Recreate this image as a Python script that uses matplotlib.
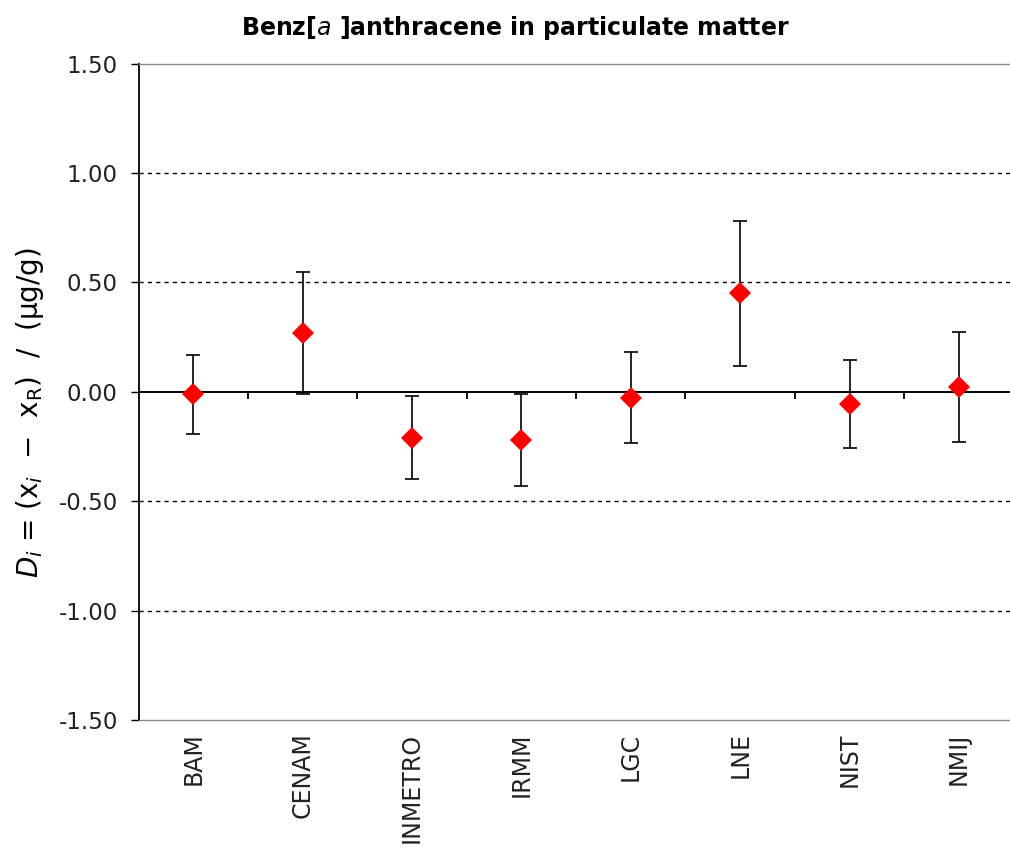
import matplotlib
matplotlib.use("Agg")
import matplotlib.pyplot as plt
import numpy as np

labs = ["BAM", "CENAM", "INMETRO", "IRMM", "LGC", "LNE", "NIST", "NMIJ"]
di = [-0.012, 0.27, -0.21, -0.22, -0.026, 0.45, -0.055, 0.022]
unc = [0.18, 0.278, 0.19, 0.21, 0.21, 0.33, 0.20, 0.25]
yticks = [1.5, 1.0, 0.5, 0.0, -0.5, -1.0, -1.5]

plt.rcParams['mathtext.fontset'] = 'dejavusans'

fig = plt.figure(figsize=(10.10, 8.51), dpi=100)
W, H = 1010, 851
left, right, top, bottom = 138.6, 1013.6, 63.7, 720.0
ax = fig.add_axes([left / W, 1 - bottom / H, (right - left) / W, (bottom - top) / H])

x = np.arange(len(labs))
ax.set_xlim(-0.5, len(labs) - 0.5)
ax.set_ylim(-1.5, 1.5)

# dashed gridlines
for g in [1.0, 0.5, -0.5, -1.0]:
    ax.axhline(g, color='black', lw=1.0, ls=(0, (3, 3)), zorder=1)
# zero line with category boundary ticks
ax.axhline(0, color='black', lw=1.4, zorder=2)
ax.vlines(np.arange(len(labs) - 1) + 0.5, -0.032, 0, color='black', lw=1.3, zorder=2)

ax.errorbar(x, di, yerr=unc, fmt='none', ecolor='black', elinewidth=1.2,
            capsize=4.7, capthick=1.2, zorder=3)
ax.plot(x, di, ls='none', marker='D', ms=11, color='#ff0000', mew=0, zorder=4)

ax.set_xticks(x)
ax.set_xticklabels(labs, rotation=90, fontsize=17, va='top', color='#222222')
ax.tick_params(axis='x', length=0, pad=9)
ax.set_yticks(yticks)
ax.set_yticklabels([f"{v:.2f}" for v in yticks], fontsize=16.5, color='#222222')
ax.tick_params(axis='y', length=6, width=1.0, pad=9)

for s in ['top', 'bottom', 'right']:
    ax.spines[s].set_color('#8a8a8a')
    ax.spines[s].set_linewidth(1.0)
ax.spines['left'].set_color('black')
ax.spines['left'].set_linewidth(1.3)

fig.text(515 / W, 1 - 28 / H, r'Benz[$\mathbf{\mathit{a}}$ ]anthracene in particulate matter',
         ha='center', va='center', fontsize=17, fontweight='bold')
fig.text(30 / W, 1 - 413 / H, r'$D_i$ = (x$_i$  $-$  x$_\mathrm{R}$)  /  (µg/g)',
         rotation=90, ha='center', va='center', fontsize=20)

fig.savefig('out.png', dpi=100)
